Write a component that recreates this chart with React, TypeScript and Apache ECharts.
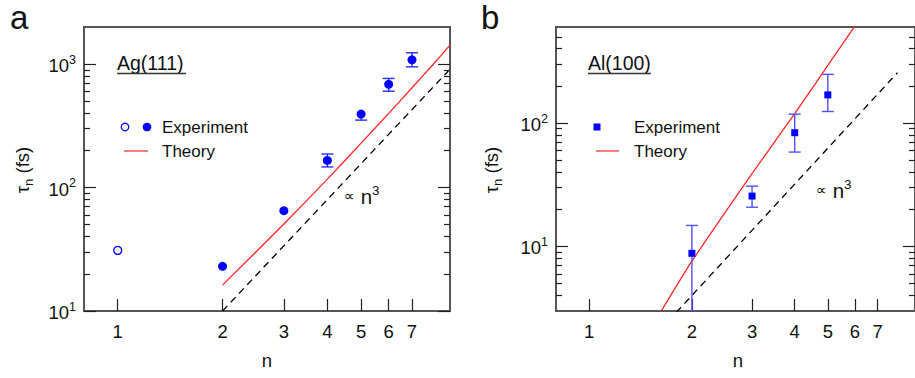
import React, { useEffect, useRef } from 'react';
import * as echarts from 'echarts';

const FONT = '"Liberation Sans", Arial, Helvetica, "DejaVu Sans", sans-serif';

// ---------- Panel a: Ag(111) ----------
const agOpenN = [1];
const agOpenTau = [31];
const agN = [2, 3, 4, 5, 6, 7];
const agTau = [23, 65, 166, 394, 686, 1084];
const agLow = [23, 65, 147, 352, 604, 951];
const agHigh = [23, 65, 187, 394, 766, 1236];
const agTheoryN = [2, 3, 4, 5, 6, 7, 8, 9];
const agTheoryTau = [16.2, 50.7, 117, 229, 399, 644, 975, 1425];
const agScalingN = [2, 8.9];
const agScalingTau = [10, 881];

// ---------- Panel b: Al(100) ----------
const alN = [2, 3, 4, 5];
const alTau = [8.8, 25.6, 83.5, 169];
const alLow = [3, 20.8, 58.2, 124];
const alHigh = [14.8, 30.8, 118, 248];
const alTheoryN = [1.627, 2, 3, 4, 5, 6];
const alTheoryTau = [3, 7.6, 39, 119, 293, 610];
const alScalingN = [1.8, 8];
const alScalingTau = [2.92, 256];

// ---------- ticks ----------
const xTicks = [1, 2, 3, 4, 5, 6, 7];
const agMajorY = [10, 100, 1000];
const agMinorY = [20, 30, 40, 50, 60, 70, 80, 90, 200, 300, 400, 500, 600, 700, 800, 900];
const alMajorY = [10, 100];
const alMinorY = [4, 5, 6, 7, 8, 9, 20, 30, 40, 50, 60, 70, 80, 90, 200, 300, 400, 500];

const BLUE = '#0000ff';
const RED = '#ff2424';
const TXT = '#111';
const TICK = '#222';

const zip = (a: number[], b: number[]) => a.map((v, i) => [v, b[i]]);
const zip4 = (a: number[], b: number[], c: number[], d: number[]) => a.map((v, i) => [v, b[i], c[i], d[i]]);

function yAxes(gridIndex: number, min: number, max: number, major: number[], minor: number[]) {
  const base = {
    type: 'log',
    logBase: 10,
    gridIndex,
    min,
    max,
    axisLine: { show: false },
    splitLine: { show: false },
    minorTick: { show: false },
  };
  const tick = (vals: number[], len: number) => ({
    show: true,
    inside: true,
    length: len,
    customValues: vals,
    lineStyle: { color: TICK, width: 1.2 },
  });
  return [
    {
      ...base,
      position: 'left',
      axisTick: tick(major, 12),
      axisLabel: {
        show: true,
        customValues: major,
        margin: 8,
        formatter: (v: number) => `{b|10}{s|${Math.round(Math.log10(v))}}`,
        rich: {
          b: { fontSize: 18.5, fontFamily: FONT, color: TXT, lineHeight: 22, verticalAlign: 'bottom' },
          s: { fontSize: 12.5, fontFamily: FONT, color: TXT, lineHeight: 12, verticalAlign: 'top' },
        },
      },
    },
    { ...base, position: 'right', axisTick: tick(major, 12), axisLabel: { show: false } },
    { ...base, position: 'left', axisTick: tick(minor, 6), axisLabel: { show: false } },
    { ...base, position: 'right', axisTick: tick(minor, 6), axisLabel: { show: false } },
  ];
}

function xAxis(gridIndex: number) {
  return {
    type: 'log',
    logBase: 10,
    gridIndex,
    min: 0.8,
    max: 9,
    position: 'bottom',
    axisLine: { show: false },
    splitLine: { show: false },
    axisTick: { show: true, inside: true, length: 12, customValues: xTicks, lineStyle: { color: TICK, width: 1.2 } },
    axisLabel: { show: true, customValues: xTicks, margin: 11, fontSize: 18.5, fontFamily: FONT, color: TXT },
  };
}

// data rows: [n, low, high, value]; a cap is drawn only where the bound differs from the value
function errorBars(xi: number, yi: number, data: number[][], color: string) {
  return {
    type: 'custom',
    xAxisIndex: xi,
    yAxisIndex: yi,
    data,
    encode: { x: 0, y: [1, 2] },
    clip: true,
    z: 3,
    renderItem: (params: any, api: any) => {
      const n = api.value(0);
      const lo = api.value(1);
      const hi = api.value(2);
      const v = api.value(3);
      const p1 = api.coord([n, hi]);
      const p2 = api.coord([n, lo]);
      const hw = 6;
      const style = { stroke: color, lineWidth: 1.4, fill: null };
      const children: any[] = [];
      if (hi > v || lo < v) {
        children.push({ type: 'line', shape: { x1: p1[0], y1: p1[1], x2: p2[0], y2: p2[1] }, style });
      }
      if (hi > v) {
        children.push({ type: 'line', shape: { x1: p1[0] - hw, y1: p1[1], x2: p1[0] + hw, y2: p1[1] }, style });
      }
      if (lo < v) {
        children.push({ type: 'line', shape: { x1: p2[0] - hw, y1: p2[1], x2: p2[0] + hw, y2: p2[1] }, style });
      }
      return { type: 'group', children };
    },
  };
}

function txt(x: number, y: number, text: string, fontSize: number, extra: any = {}) {
  return {
    type: 'text',
    x,
    y,
    z: 10,
    ...extra,
    style: {
      text,
      fontSize,
      fontFamily: FONT,
      fill: TXT,
      align: 'left',
      textAlign: 'left',
      verticalAlign: 'middle',
      textVerticalAlign: 'middle',
      ...(extra.style || {}),
    },
  };
}

export default function App() {
  const ref = useRef<HTMLDivElement>(null);

  useEffect(() => {
    if (!ref.current) return;
    const chart = echarts.init(ref.current, undefined, { renderer: 'svg' });

    const gridStyle = { show: true, borderColor: '#555', borderWidth: 2, backgroundColor: 'transparent' };

    const propRich = {
      p: { fontSize: 15, fontFamily: FONT, color: TXT, lineHeight: 24, verticalAlign: 'middle', padding: [0, 6, 0, 0] },
      n: { fontSize: 20.5, fontFamily: FONT, color: TXT, lineHeight: 24, verticalAlign: 'bottom' },
      s: { fontSize: 13.5, fontFamily: FONT, color: TXT, lineHeight: 14, verticalAlign: 'top' },
    };
    const tauRich = {
      t: { fontSize: 18.5, fontFamily: FONT, color: TXT, lineHeight: 22, verticalAlign: 'top' },
      u: { fontSize: 13, fontFamily: FONT, color: TXT, lineHeight: 13, verticalAlign: 'bottom' },
    };

    const option: any = {
      animation: false,
      backgroundColor: '#fff',
      grid: [
        { ...gridStyle, left: 84, top: 27, width: 366, height: 284 },
        { ...gridStyle, left: 556, top: 27, width: 364, height: 284 },
      ],
      xAxis: [xAxis(0), xAxis(1)],
      yAxis: [...yAxes(0, 10, 2000, agMajorY, agMinorY), ...yAxes(1, 3, 600, alMajorY, alMinorY)],
      series: [
        // Panel a
        {
          type: 'line',
          xAxisIndex: 0,
          yAxisIndex: 0,
          data: zip(agScalingN, agScalingTau),
          symbol: 'none',
          clip: true,
          lineStyle: { color: '#000', width: 1.3, type: [7, 5] },
          z: 2,
        },
        {
          type: 'line',
          xAxisIndex: 0,
          yAxisIndex: 0,
          data: zip(agTheoryN, agTheoryTau),
          symbol: 'none',
          smooth: 0.2,
          clip: true,
          lineStyle: { color: RED, width: 1.3 },
          z: 2,
        },
        errorBars(0, 0, zip4(agN, agLow, agHigh, agTau), '#2a2aff'),
        {
          type: 'scatter',
          xAxisIndex: 0,
          yAxisIndex: 0,
          data: zip(agN, agTau),
          symbol: 'circle',
          symbolSize: 9,
          itemStyle: { color: BLUE, opacity: 1 },
          z: 4,
        },
        {
          type: 'scatter',
          xAxisIndex: 0,
          yAxisIndex: 0,
          data: zip(agOpenN, agOpenTau),
          symbol: 'circle',
          symbolSize: 8,
          itemStyle: { color: '#fff', borderColor: BLUE, borderWidth: 1.3, opacity: 1 },
          z: 4,
        },
        // Panel b
        {
          type: 'line',
          xAxisIndex: 1,
          yAxisIndex: 4,
          data: zip(alScalingN, alScalingTau),
          symbol: 'none',
          clip: true,
          lineStyle: { color: '#000', width: 1.3, type: [7, 5] },
          z: 2,
        },
        {
          type: 'line',
          xAxisIndex: 1,
          yAxisIndex: 4,
          data: zip(alTheoryN, alTheoryTau),
          symbol: 'none',
          smooth: 0.2,
          clip: true,
          lineStyle: { color: RED, width: 1.3 },
          z: 2,
        },
        errorBars(1, 4, zip4(alN, alLow, alHigh, alTau), '#5050ff'),
        {
          type: 'scatter',
          xAxisIndex: 1,
          yAxisIndex: 4,
          data: zip(alN, alTau),
          symbol: 'rect',
          symbolSize: 7,
          itemStyle: { color: BLUE, opacity: 1 },
          z: 4,
        },
      ],
      graphic: [
        // panel letters
        txt(10, 17.5, 'a', 33, { style: { lineHeight: 30 } }),
        txt(481, 17.5, 'b', 33, { style: { lineHeight: 30 } }),
        // sample labels
        txt(117, 62.5, 'Ag(111)', 19.5),
        { type: 'line', z: 10, shape: { x1: 117, y1: 73.5, x2: 186, y2: 73.5 }, style: { stroke: '#333', lineWidth: 1.5 } },
        txt(588, 62.5, 'Al(100)', 19.5),
        { type: 'line', z: 10, shape: { x1: 588, y1: 73.5, x2: 651, y2: 73.5 }, style: { stroke: '#333', lineWidth: 1.5 } },
        // legend a
        { type: 'circle', z: 10, shape: { cx: 125, cy: 127, r: 3.8 }, style: { fill: '#fff', stroke: BLUE, lineWidth: 1.2 } },
        { type: 'circle', z: 10, shape: { cx: 147, cy: 127, r: 4.3 }, style: { fill: BLUE } },
        txt(162, 127, 'Experiment', 17),
        { type: 'line', z: 10, shape: { x1: 124, y1: 151, x2: 148, y2: 151 }, style: { stroke: '#ff5050', lineWidth: 1.5 } },
        txt(162, 151, 'Theory', 17),
        // legend b
        { type: 'rect', z: 10, shape: { x: 593.5, y: 123.5, width: 7, height: 7 }, style: { fill: BLUE } },
        txt(634, 127, 'Experiment', 17),
        { type: 'line', z: 10, shape: { x1: 596, y1: 151, x2: 619, y2: 151 }, style: { stroke: '#ff5050', lineWidth: 1.5 } },
        txt(634, 151, 'Theory', 17),
        // proportionality labels
        txt(344, 195, '{p|∝}{n|n}{s|3}', 19.5, { style: { rich: propRich } }),
        txt(816, 189, '{p|∝}{n|n}{s|3}', 19.5, { style: { rich: propRich } }),
        // axis titles
        txt(267, 360, 'n', 18.5, { style: { align: 'center', textAlign: 'center' } }),
        txt(738, 360, 'n', 18.5, { style: { align: 'center', textAlign: 'center' } }),
        txt(24, 170, '{t|τ}{u|n}{t| (fs)}', 18.5, {
          rotation: Math.PI / 2,
          style: { align: 'center', textAlign: 'center', rich: tauRich },
        }),
        txt(493, 170, '{t|τ}{u|n}{t| (fs)}', 18.5, {
          rotation: Math.PI / 2,
          style: { align: 'center', textAlign: 'center', rich: tauRich },
        }),
      ],
    };

    chart.setOption(option);
    return () => {
      chart.dispose();
    };
  }, []);

  return (
    <div
      ref={ref}
      style={{ position: 'fixed', left: 0, top: 0, width: 915, height: 378, background: '#fff' }}
    />
  );
}
